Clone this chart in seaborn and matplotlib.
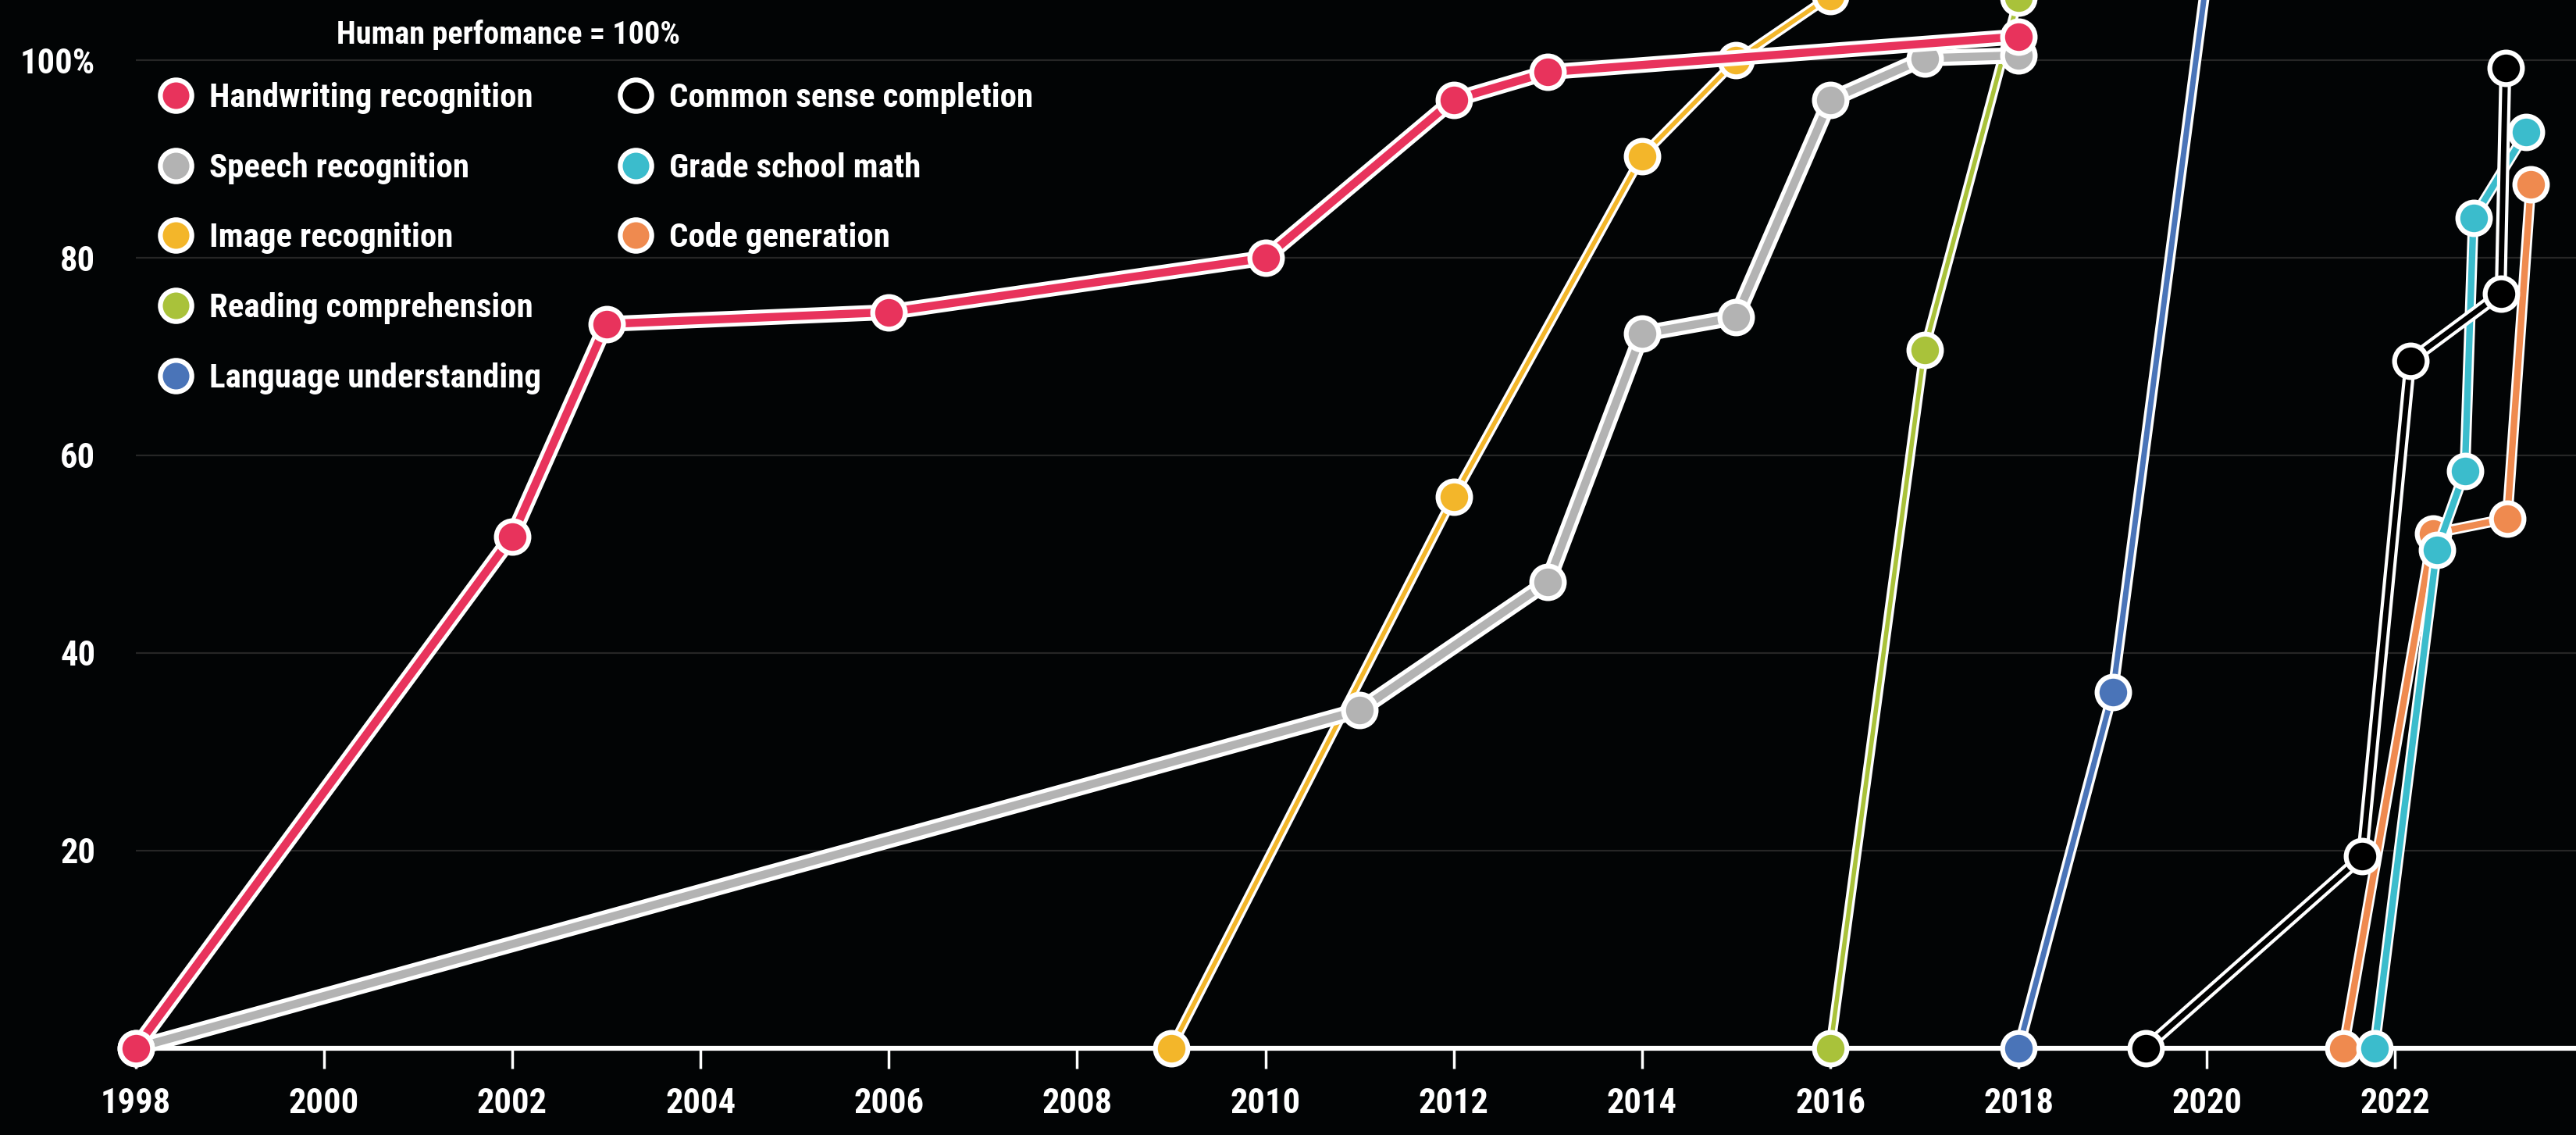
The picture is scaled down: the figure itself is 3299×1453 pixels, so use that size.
import matplotlib
matplotlib.use("Agg")
import matplotlib.pyplot as plt
import matplotlib.patheffects as pe
from matplotlib.lines import Line2D
import seaborn as sns

# --- data (year, score as % of human performance) ---
handwriting_years = [1998, 2002, 2003, 2006, 2010, 2012, 2013, 2018]
handwriting_scores = [0, 51.8, 73.3, 74.5, 80.0, 96.0, 98.8, 102.4]

speech_years = [1998, 2011, 2013, 2014, 2015, 2016, 2017, 2018]
speech_scores = [0, 34.2, 47.2, 72.3, 74.0, 96.0, 100.2, 100.5]

image_years = [2009, 2012, 2014, 2015, 2016]
image_scores = [0, 55.8, 90.3, 100.0, 106.5]

reading_years = [2016, 2017, 2018]
reading_scores = [0, 70.7, 106.3]

language_years = [2018, 2019, 2020]
language_scores = [0, 36.0, 108.5]

common_sense_years = [2019.35, 2021.65, 2022.16, 2023.12, 2023.17]
common_sense_scores = [0, 19.4, 69.6, 76.4, 99.2]

math_years = [2021.78, 2022.44, 2022.74, 2022.83, 2023.39]
math_scores = [0, 50.4, 58.4, 84.0, 92.7]

code_years = [2021.45, 2022.40, 2023.19, 2023.44]
code_scores = [0, 52.1, 53.6, 87.4]

x_ticks = list(range(1998, 2023, 2))
y_ticks = [20, 40, 60, 80, 100]
y_tick_labels = ["20", "40", "60", "80", "100%"]

BG = "#020405"
FONT = ["Liberation Sans Narrow", "Roboto Condensed", "DejaVu Sans"]

# name, years, scores, fill colour, line core width, outline width
series = [
    ("Handwriting recognition", handwriting_years, handwriting_scores, "#e8335c", 7.5, 14.5),
    ("Speech recognition", speech_years, speech_scores, "#b3b3b3", 7.5, 15),
    ("Image recognition", image_years, image_scores, "#f3b62a", 4, 9),
    ("Reading comprehension", reading_years, reading_scores, "#a9c23a", 4, 9),
    ("Language understanding", language_years, language_scores, "#4a74b8", 5, 10),
    ("Common sense completion", common_sense_years, common_sense_scores, "#000000", 5, 11),
    ("Grade school math", math_years, math_scores, "#3bbccc", 6, 10),
    ("Code generation", code_years, code_scores, "#ef8a4f", 6, 10),
]


def main():
    sns.set_theme(style="dark")
    plt.rcParams["font.family"] = FONT

    fig = plt.figure(figsize=(32.99, 14.53), dpi=100, facecolor=BG)
    ax = fig.add_axes([0, 0, 1, 1], facecolor=BG)

    # faint horizontal guides, starting at the first year
    ax.hlines(y_ticks, 1998, 2030, color="#262626", lw=1.6, zorder=0)

    # draw later series first so handwriting ends on top
    for i, (name, yrs, vals, color, core, outline) in enumerate(reversed(series)):
        z = 3 + i * 2
        sns.lineplot(x=yrs, y=vals, color=color, lw=core, sort=False,
                     estimator=None, ax=ax, zorder=z,
                     path_effects=[pe.Stroke(linewidth=outline, foreground="white"),
                                   pe.Normal()])
        sns.scatterplot(x=yrs, y=vals, color=color, s=30 ** 2,
                        edgecolor="white", linewidth=4.5, ax=ax, zorder=z + 1)

    ax.set_xlim(1996.56, 2023.92)
    ax.set_ylim(-8.8, 106.1)

    # axis: white baseline at 0 with ticks hanging below
    for side in ["top", "right", "left"]:
        ax.spines[side].set_visible(False)
    ax.spines["bottom"].set_position(("data", 0))
    ax.spines["bottom"].set_color("white")
    ax.spines["bottom"].set_linewidth(4.5)
    ax.spines["bottom"].set_bounds(1998, 2030)
    ax.spines["bottom"].set_zorder(2)

    ax.set_xticks(x_ticks)
    ax.set_xticklabels([str(t) for t in x_ticks], fontweight="bold")
    ax.tick_params(axis="x", direction="out", length=19, width=2.5, colors="white",
                   labelsize=32, pad=17, bottom=True)
    ax.set_yticks(y_ticks)
    ax.set_yticklabels(y_tick_labels, fontweight="bold")
    ax.tick_params(axis="y", length=0, labelcolor="white", labelsize=32, pad=-88, left=True)
    ax.grid(False)
    ax.set_xlabel("")
    ax.set_ylabel("")

    # legend: two columns, 5 + 3 entries
    handles = [Line2D([], [], ls="none", marker="o", ms=29, mfc=c, mec="white", mew=4.5,
                      label=name) for name, _, _, c, _, _ in series]
    leg_kw = dict(loc="upper left", frameon=False, labelcolor="white",
                  prop={"size": 31, "weight": "bold"},
                  handlelength=1.0, handletextpad=0.5, labelspacing=1.13,
                  borderpad=0, borderaxespad=0)
    top = 1 - 105 / 1453
    leg1 = ax.legend(handles=handles[:5], bbox_to_anchor=(203 / 3299, top), **leg_kw)
    leg1.set_zorder(30)
    ax.add_artist(leg1)
    leg2 = ax.legend(handles=handles[5:], bbox_to_anchor=(792 / 3299, top), **leg_kw)
    leg2.set_zorder(30)

    ax.text(431 / 3299, 1 - 44 / 1453, "Human perfomance = 100%", transform=ax.transAxes,
            color="white", fontsize=29, fontweight="bold", ha="left", va="center", zorder=30)

    fig.savefig("out.png", dpi=100, facecolor=BG)


if __name__ == "__main__":
    main()
